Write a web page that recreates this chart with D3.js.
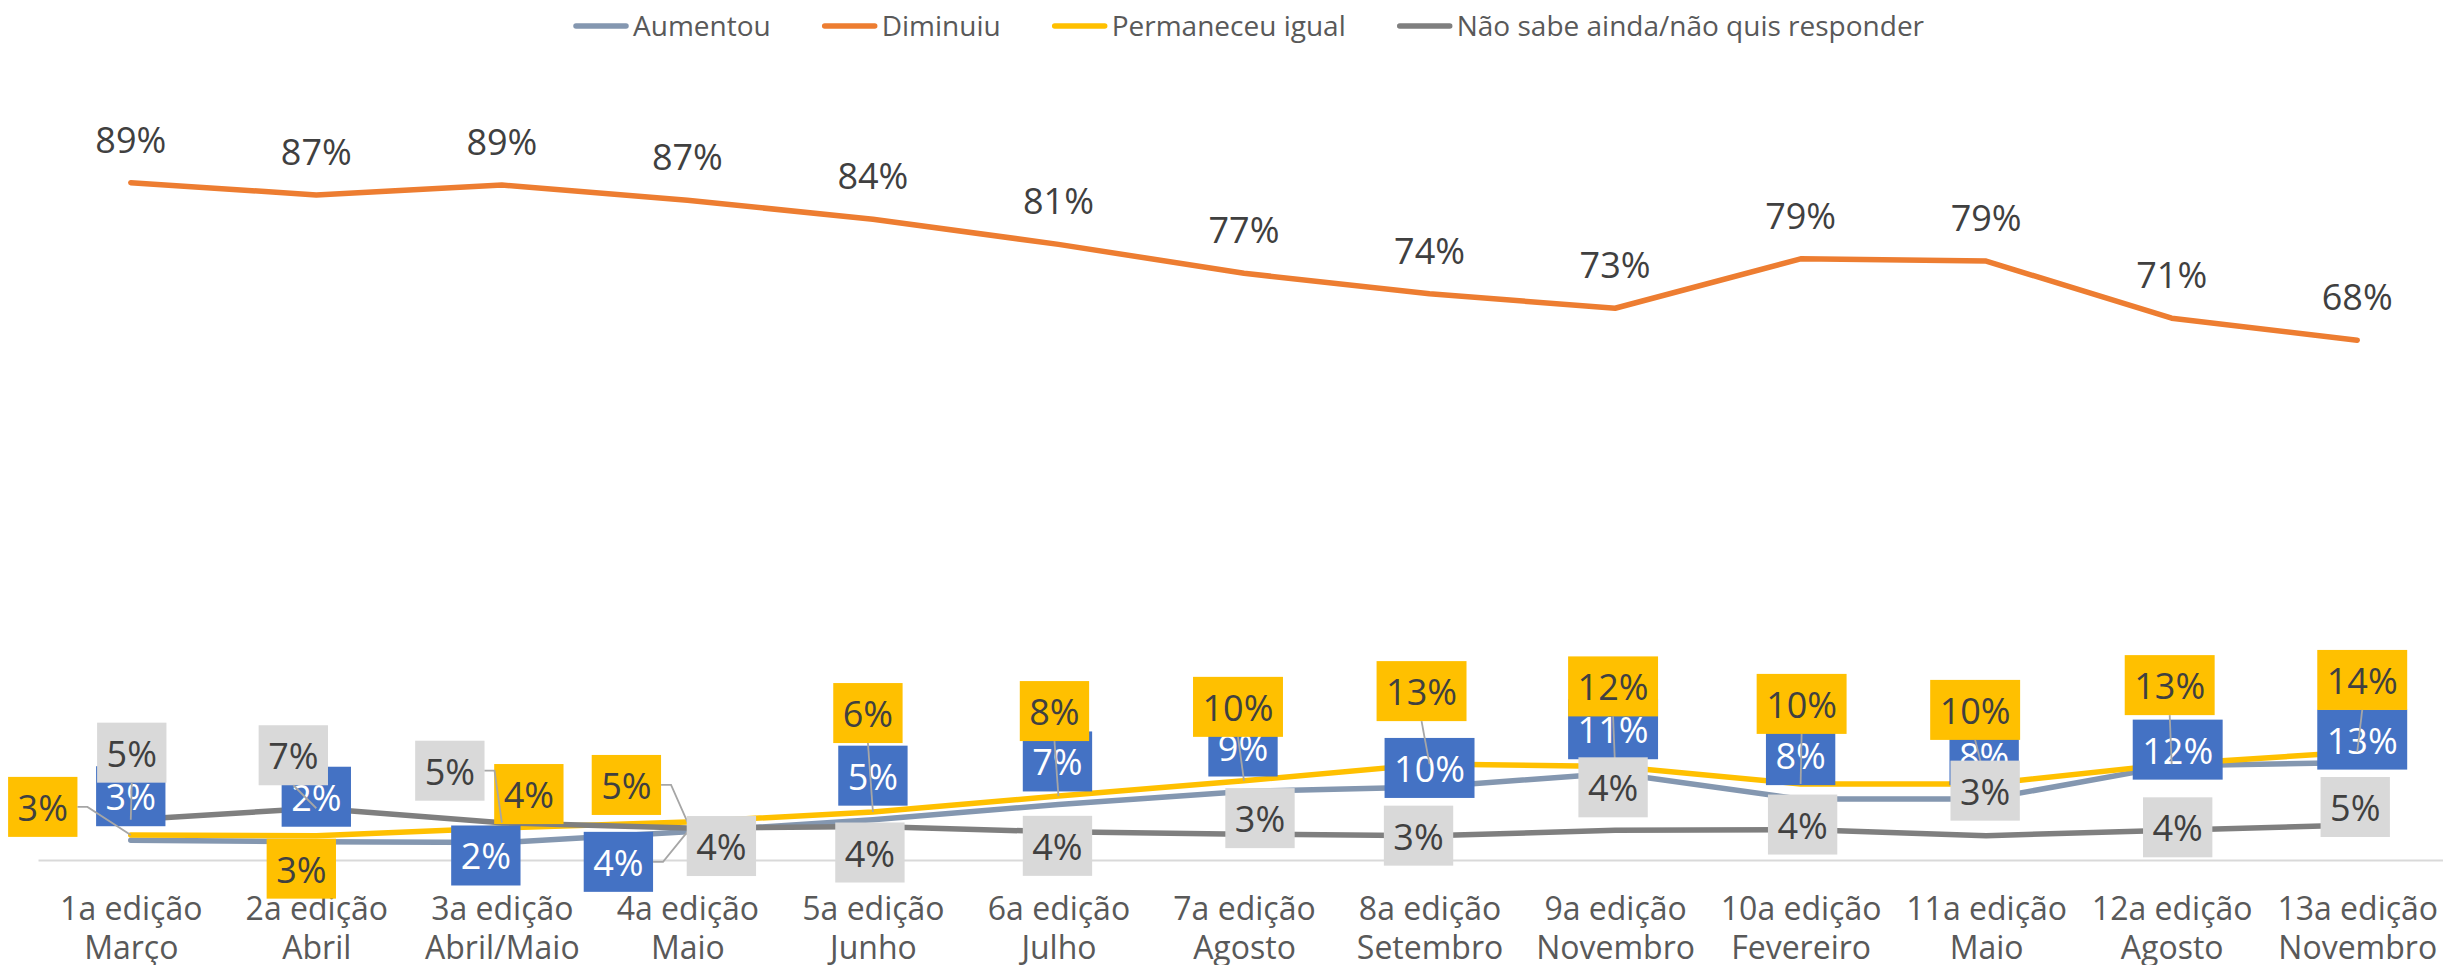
<!DOCTYPE html>
<html>
<head>
<meta charset="utf-8">
<script src="https://cdn.jsdelivr.net/npm/d3@7.9.0/dist/d3.min.js"></script>
<style>
  body { margin: 0; background: #fff; }
  svg { display: block; font-family: "Open Sans", sans-serif; }
</style>
</head>
<body>
<svg id="chart" width="2443" height="965"></svg>
<script>
const editions = ['1a edição', '2a edição', '3a edição', '4a edição', '5a edição', '6a edição', '7a edição',
  '8a edição', '9a edição', '10a edição', '11a edição', '12a edição', '13a edição'];
const months = ['Março', 'Abril', 'Abril/Maio', 'Maio', 'Junho', 'Julho', 'Agosto',
  'Setembro', 'Novembro', 'Fevereiro', 'Maio', 'Agosto', 'Novembro'];
const seriesNames = ['Aumentou', 'Diminuiu', 'Permaneceu igual', 'Não sabe ainda/não quis responder'];

// percentages
const aumentou = [2.6, 2.4, 2.3, 3.7, 5.3, 7.3, 9.0, 9.6, 11.4, 8.0, 8.0, 12.4, 12.8];
const diminuiu = [89, 87.4, 88.7, 86.7, 84.2, 80.9, 77.1, 74.4, 72.5, 79.0, 78.7, 71.2, 68.3];
const permaneceu = [3.3, 3.2, 4.2, 5.0, 6.3, 8.4, 10.4, 12.6, 12.3, 10.0, 10.0, 12.6, 14.2];
const naoSabe = [5.3, 6.8, 4.9, 4.2, 4.4, 3.7, 3.4, 3.2, 3.9, 4.0, 3.2, 3.9, 4.6];

// where the labels were dragged to (label centre minus point, px)
const shiftAumentou = [[0, -44], [0, -45], [-16, 13], [-69, 30], [0, -44], [-1, -43], [-1, -45],
  [0, -19], [-2, -44], [0, -44], [-2, -44], [6, -16], [5, -23]];
const shiftPermaneceu = [[-88, -28], [-15, 33], [27, -34], [-61, -37], [-5, -99], [-4, -85], [-6, -74],
  [-8, -73], [-2, -80], [1, -80], [-11, -74], [-2, -79], [5, -72]];
const shiftNaoSabe = [[1, -67], [-23, -53], [-52, -52], [34, 18], [-3, 26], [-1, 14], [16, -16],
  [-11, 0], [-2, -43], [2, -5], [-1, -45], [6, -3], [-2, -18]];

const width = 2443;
const svg = d3.select('#chart');

const x = d3.scalePoint().domain(editions).range([38, 2450]).padding(0.5);
const y = d3.scaleLinear().domain([0, 100]).range([860, 99]);

// category axis
const axis = svg.append('g')
  .attr('transform', `translate(0,${y(0)})`)
  .call(d3.axisBottom(x).tickSize(0).tickSizeOuter(0));
axis.select('.domain').attr('stroke', '#d9d9d9').attr('stroke-width', 2);
axis.selectAll('.tick text').each(function (d, i) {
  const t = d3.select(this).text(null).attr('dy', null).attr('y', null)
    .attr('fill', '#595959').style('font-size', '32px').style('font-family', '"Open Sans", sans-serif');
  t.append('tspan').attr('x', 0).attr('y', 60).text(d);
  t.append('tspan').attr('x', 0).attr('y', 99).text(months[i]);
});

const line = d3.line().x((d, i) => x(editions[i])).y(d => y(d));
const series = [
  { name: seriesNames[0], values: aumentou, color: '#8497b0' },
  { name: seriesNames[1], values: diminuiu, color: '#ed7d31' },
  { name: seriesNames[2], values: permaneceu, color: '#ffc000' },
  { name: seriesNames[3], values: naoSabe, color: '#7f7f7f' },
];

svg.append('g').selectAll('path').data(series).join('path')
  .attr('d', d => line(d.values))
  .attr('fill', 'none')
  .attr('stroke', d => d.color)
  .attr('stroke-width', 5.5)
  .attr('stroke-linejoin', 'round')
  .attr('stroke-linecap', 'round');

const fmt = v => Math.round(v) + '%';

function boxLabels(values, shifts, fill, textColor) {
  const g = svg.append('g');
  values.forEach((v, i) => {
    const px = x(editions[i]);
    const py = y(v);
    const cx = px + shifts[i][0];
    const cy = py + shifts[i][1];
    const lg = g.append('g');
    const rect = lg.append('rect').attr('fill', fill);
    const txt = lg.append('text')
      .attr('x', cx).attr('y', cy + 14)
      .attr('text-anchor', 'middle')
      .attr('fill', textColor)
      .style('font-size', '36px')
      .text(fmt(v));
    const w = txt.node().getComputedTextLength() + 19;
    const h = 60;
    const x0 = cx - w / 2, x1 = cx + w / 2, y0 = cy - h / 2, y1 = cy + h / 2;
    rect.attr('x', x0).attr('y', y0).attr('width', w).attr('height', h);

    // leader line when the label sits away from its point
    const gapX = px < x0 ? x0 - px : px > x1 ? px - x1 : 0;
    const gapY = py < y0 ? y0 - py : py > y1 ? py - y1 : 0;
    if (Math.max(gapX, gapY) < 18) return;
    let pts;
    if (gapX === 0) {
      pts = [[cx, py > cy ? y1 : y0], [px, py]];
    } else {
      const sx = px > cx ? x1 : x0;
      const stub = px > cx ? 10 : -10;
      pts = [[sx, cy], [sx + stub, cy], [px, py]];
    }
    lg.append('path')
      .attr('d', d3.line()(pts))
      .attr('fill', 'none')
      .attr('stroke', '#a6a6a6')
      .attr('stroke-width', 1.8);
  });
}

boxLabels(aumentou, shiftAumentou, '#4472c4', '#ffffff');

svg.append('g').selectAll('text').data(diminuiu).join('text')
  .attr('x', (d, i) => x(editions[i]))
  .attr('y', d => y(d) - 30)
  .attr('text-anchor', 'middle')
  .attr('fill', '#404040')
  .style('font-size', '36px')
  .text(fmt);

boxLabels(permaneceu, shiftPermaneceu, '#ffc000', '#404040');
boxLabels(naoSabe, shiftNaoSabe, '#d9d9d9', '#404040');

// legend
const legend = svg.append('g');
let lx = 573;
series.forEach(s => {
  legend.append('line')
    .attr('x1', lx + 3).attr('x2', lx + 53).attr('y1', 26).attr('y2', 26)
    .attr('stroke', s.color).attr('stroke-width', 5.5).attr('stroke-linecap', 'round');
  const t = legend.append('text')
    .attr('x', lx + 60).attr('y', 36)
    .attr('fill', '#595959')
    .style('font-size', '28px')
    .text(s.name);
  lx += 60 + t.node().getComputedTextLength() + 51;
});
</script>
</body>
</html>
